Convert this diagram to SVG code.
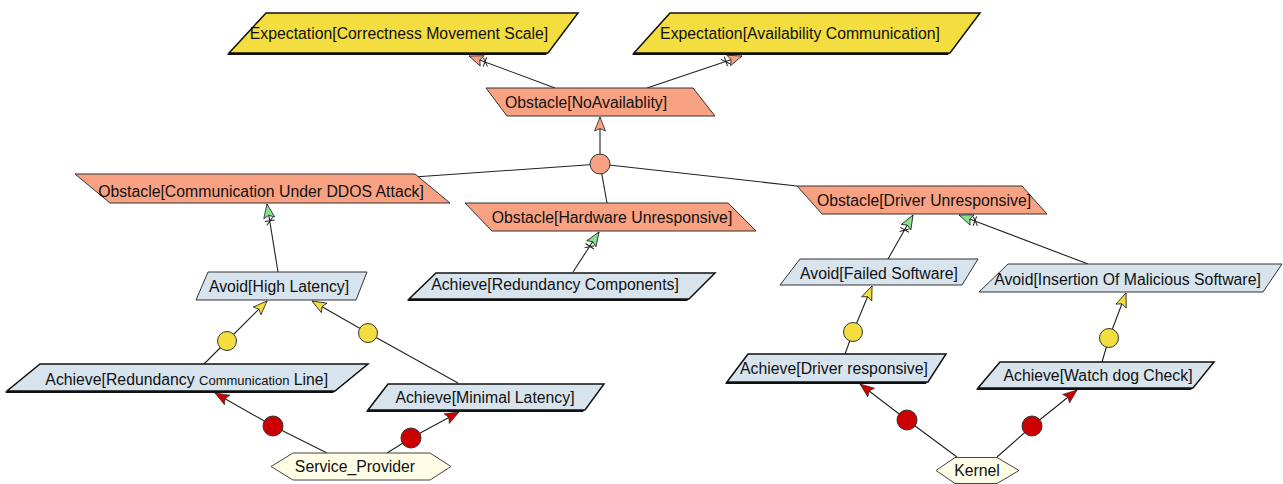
<svg xmlns="http://www.w3.org/2000/svg" width="1283" height="484" viewBox="0 0 1283 484">
<style>
text{font-family:"Liberation Sans",Arial,sans-serif;font-size:15.8px;fill:#111;text-anchor:middle}
.exp{fill:#f3dd3f;stroke:#111;stroke-width:1.5}
.obs{fill:#f9a283;stroke:#333;stroke-width:1}
.ach{fill:#d7e4ee;stroke:#111;stroke-width:1.5}
.avo{fill:#d7e4ee;stroke:#333;stroke-width:1}
.sh{fill:#111}
.agt{fill:#fffde6;stroke:#444;stroke-width:1}
.ln{fill:none;stroke:#222;stroke-width:1.1}
.jy{fill:#f3dd3f;stroke:#333;stroke-width:1}
.jr{fill:#cc0000;stroke:#333;stroke-width:1}
.js{fill:#f9a283;stroke:#333;stroke-width:1}
</style>
<defs>
<marker id="mObs" markerUnits="userSpaceOnUse" markerWidth="30" markerHeight="20" refX="0" refY="0" orient="auto" overflow="visible">
<path d="M0,0 L-14,-5.5 L-11.5,0 L-14,5.5 Z" fill="#f9a283" stroke="#222" stroke-width="0.8"/>
<path d="M-17,-5 L-17,5 M-21,-3.5 L-14,3.5" stroke="#222" stroke-width="1" fill="none"/>
</marker>
<marker id="mGrn" markerUnits="userSpaceOnUse" markerWidth="30" markerHeight="20" refX="0" refY="0" orient="auto" overflow="visible">
<path d="M0,0 L-14,-5.5 L-11.5,0 L-14,5.5 Z" fill="#86e389" stroke="#222" stroke-width="0.8"/>
<path d="M-17,-5 L-17,5 M-21,-3.5 L-14,3.5" stroke="#222" stroke-width="1" fill="none"/>
</marker>
<marker id="mSal" markerUnits="userSpaceOnUse" markerWidth="30" markerHeight="20" refX="0" refY="0" orient="auto" overflow="visible">
<path d="M0,0 L-14,-5.5 L-11.5,0 L-14,5.5 Z" fill="#f9a283" stroke="#222" stroke-width="0.8"/>
</marker>
<marker id="mYel" markerUnits="userSpaceOnUse" markerWidth="30" markerHeight="20" refX="0" refY="0" orient="auto" overflow="visible">
<path d="M0,0 L-14,-5.5 L-11.5,0 L-14,5.5 Z" fill="#f3dd3f" stroke="#222" stroke-width="0.8"/>
</marker>
<marker id="mRed" markerUnits="userSpaceOnUse" markerWidth="30" markerHeight="20" refX="0" refY="0" orient="auto" overflow="visible">
<path d="M0,0 L-14,-5.5 L-11.5,0 L-14,5.5 Z" fill="#cc0000" stroke="#222" stroke-width="0.6"/>
</marker>
</defs>
<rect width="1283" height="484" fill="#fff"/>

<g id="connectors">
<path class="ln" d="M555,88 L469,56" marker-end="url(#mObs)"/>
<path class="ln" d="M647,88 L742,56" marker-end="url(#mObs)"/>
<path class="ln" d="M600,164 L600,117" marker-end="url(#mSal)"/>
<path class="ln" d="M600,164 L414,177"/>
<path class="ln" d="M600,164 L607,203"/>
<path class="ln" d="M600,164 L797,186"/>
<path class="ln" d="M278,272 L267,204" marker-end="url(#mGrn)"/>
<path class="ln" d="M573,272 L599,232" marker-end="url(#mGrn)"/>
<path class="ln" d="M888,259 L913,215" marker-end="url(#mGrn)"/>
<path class="ln" d="M1088,264 L959,215" marker-end="url(#mGrn)"/>
<path class="ln" d="M204,364 L227,341 L267,301" marker-end="url(#mYel)"/>
<path class="ln" d="M458,383 L368,333 L312,301" marker-end="url(#mYel)"/>
<path class="ln" d="M845,354 L853,332 L872,286" marker-end="url(#mYel)"/>
<path class="ln" d="M1102,362 L1109,338 L1126,293" marker-end="url(#mYel)"/>
<path class="ln" d="M327,453 L273,426 L215,393" marker-end="url(#mRed)"/>
<path class="ln" d="M387,453 L411,438 L459,412" marker-end="url(#mRed)"/>
<path class="ln" d="M957,457 L907,420 L860,384" marker-end="url(#mRed)"/>
<path class="ln" d="M997,457 L1032,426 L1077,390" marker-end="url(#mRed)"/>
<circle class="js" cx="600" cy="164" r="10"/>
<circle class="jy" cx="227" cy="341" r="9.5"/>
<circle class="jy" cx="368" cy="333" r="9.5"/>
<circle class="jy" cx="853" cy="332" r="9.5"/>
<circle class="jy" cx="1109" cy="338" r="9.5"/>
<circle class="jr" cx="273" cy="426" r="10"/>
<circle class="jr" cx="411" cy="438" r="10"/>
<circle class="jr" cx="907" cy="420" r="10"/>
<circle class="jr" cx="1032" cy="426" r="10"/>
</g>

<g id="exp1">
<polygon class="sh" points="264,15 576,15 546,55 227,55"/>
<polygon class="exp" points="266,13 578,13 548,53 229,53"/>
<text x="399" y="38.5">Expectation[Correctness Movement Scale]</text>
</g>
<g id="exp2">
<polygon class="sh" points="668,15 978,15 948,55 632,55"/>
<polygon class="exp" points="670,13 980,13 950,53 634,53"/>
<text x="800" y="38.5">Expectation[Availability Communication]</text>
</g>
<g id="obs_noavail">
<polygon class="obs" points="486,88 693,88 715,116 507,116"/>
<text x="586" y="108">Obstacle[NoAvailablity]</text>
</g>
<g id="obs_ddos">
<polygon class="obs" points="75,174 415,174 450,203 110,203"/>
<text x="261" y="197">Obstacle[Communication Under DDOS Attack]</text>
</g>
<g id="obs_hw">
<polygon class="obs" points="465,203 728,203 756,231 492,231"/>
<text x="612" y="223">Obstacle[Hardware Unresponsive]</text>
</g>
<g id="obs_driver">
<polygon class="obs" points="797,186 1022,186 1047,214 822,214"/>
<text x="924" y="205.5">Obstacle[Driver Unresponsive]</text>
</g>
<g id="avoid_latency">
<polygon class="avo" points="208,272 367,272 356,300 196,300"/>
<text x="279" y="291.5">Avoid[High Latency]</text>
</g>
<g id="ach_redcomp">
<polygon class="sh" points="434,275 713,275 687,301 407,301"/>
<polygon class="ach" points="436,273 715,273 689,299 409,299"/>
<text x="555" y="289.5">Achieve[Redundancy Components]</text>
</g>
<g id="avoid_failed">
<polygon class="avo" points="800,259 978,259 962,285 780,285"/>
<text x="879" y="279">Avoid[Failed Software]</text>
</g>
<g id="avoid_insert">
<polygon class="avo" points="1008,264 1282,264 1263,292 979,292"/>
<text x="1127.5" y="284.5">Avoid[Insertion Of Malicious Software]</text>
</g>
<g id="ach_redline">
<polygon class="sh" points="38,366 366,366 333,393 5,393"/>
<polygon class="ach" points="40,364 368,364 335,391 7,391"/>
<text x="186.7" y="384.5">Achieve[Redundancy <tspan style="font-size:13px">Communication</tspan> Line]</text>
</g>
<g id="ach_minlat">
<polygon class="sh" points="386,386 602,386 583,412 366,412"/>
<polygon class="ach" points="388,384 604,384 585,410 368,410"/>
<text x="485" y="403">Achieve[Minimal Latency]</text>
</g>
<g id="ach_driver">
<polygon class="sh" points="746,356 944,356 926,384 725,384"/>
<polygon class="ach" points="748,354 946,354 928,382 727,382"/>
<text x="834" y="374">Achieve[Driver responsive]</text>
</g>
<g id="ach_watchdog">
<polygon class="sh" points="998,364 1212,364 1191,390 976,390"/>
<polygon class="ach" points="1000,362 1214,362 1193,388 978,388"/>
<text x="1098" y="381">Achieve[Watch dog Check]</text>
</g>
<g id="agent_sp">
<polygon class="agt" points="271,466.5 293,453 430,453 451,466.5 430,480 293,480"/>
<text x="355" y="472">Service_Provider</text>
</g>
<g id="agent_kernel">
<polygon class="agt" points="936,470.5 955,457.5 997,457.5 1019,470.5 997,483.5 955,483.5"/>
<text x="977" y="476">Kernel</text>
</g>
</svg>
